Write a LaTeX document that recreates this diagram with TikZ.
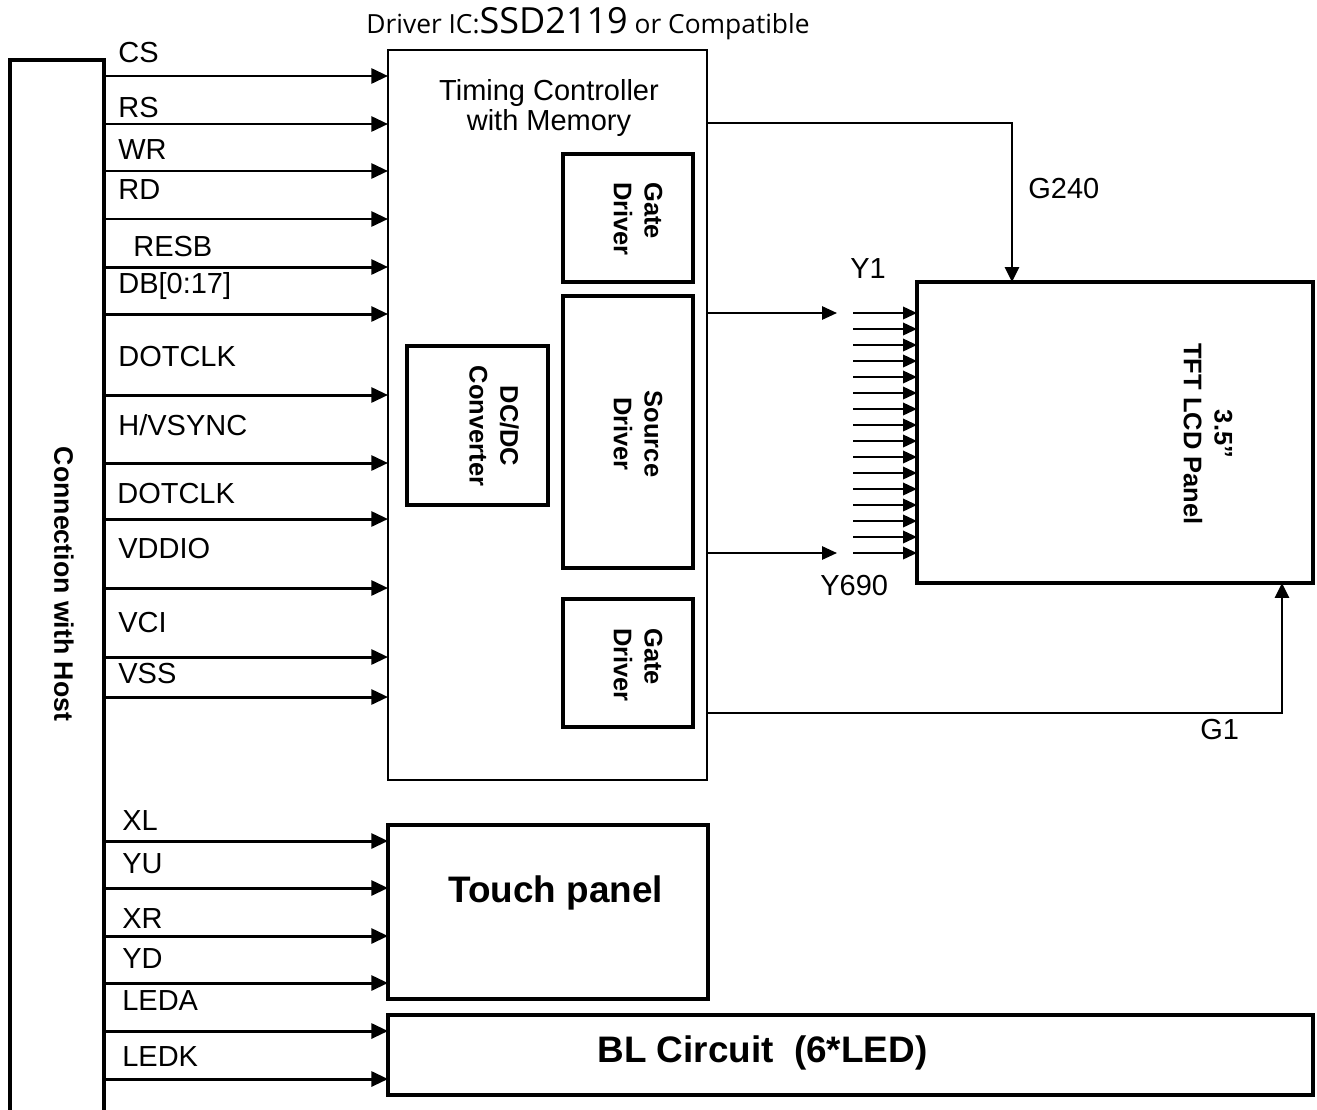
\documentclass[tikz,border=0pt]{standalone}
\usepackage{fontspec}
\setmainfont{Liberation Sans}
\newfontfamily\hdrfont{Open Sans}
\usetikzlibrary{arrows.meta}

\begin{document}
\begin{tikzpicture}[x=0.02cm, y=-0.02cm,
    blk/.style={draw, line width=2.3pt, inner sep=0pt, outer sep=0pt},
    tcbox/.style={draw, line width=1.2pt, inner sep=0pt, outer sep=0pt},
    hostbox/.style={draw, line width=2.5pt, inner sep=0pt, outer sep=0pt},
    sig/.style={-{Triangle[length=9.5pt, width=8.5pt]}, line width=1.7pt},
    gline/.style={-{Triangle[length=8.5pt, width=8pt]}, line width=1.4pt},
    yline/.style={-{Triangle[length=8.5pt, width=7.5pt]}, line width=1.2pt},
    fan/.style={-{Triangle[length=8pt, width=7pt]}, line width=1.5pt},
    siglab/.style={anchor=base west, inner sep=0pt, font=\fontsize{16.5}{19}\selectfont},
    vlab/.style={rotate=-90, align=center, inner sep=0pt,
                 font=\fontsize{14.5}{17.5}\selectfont\bfseries},
    biglab/.style={anchor=base west, inner sep=0pt,
                   font=\fontsize{21}{24}\selectfont\bfseries},
]
    \useasboundingbox (0,0) rectangle (1317,1109);

    % blocks
    \node[hostbox, minimum width=1.88cm, minimum height=21.3cm] (host) at (57,592.5) {};
    \node[tcbox, minimum width=6.38cm, minimum height=14.6cm] (tc) at (547.5,415) {};
    \node[blk, minimum width=2.6cm, minimum height=2.56cm] (gtop) at (628,218) {};
    \node[blk, minimum width=2.6cm, minimum height=5.44cm] (src) at (628,432) {};
    \node[blk, minimum width=2.6cm, minimum height=2.56cm] (gbot) at (628,663) {};
    \node[blk, minimum width=2.82cm, minimum height=3.18cm] (dcdc) at (477.5,425.5) {};
    \node[blk, minimum width=7.92cm, minimum height=6.02cm] (lcd) at (1115,432.5) {};
    \node[blk, minimum width=6.4cm, minimum height=3.48cm] (touch) at (548,912) {};
    \node[blk, minimum width=18.5cm, minimum height=1.6cm] (bl) at (850.5,1055) {};

    % texts
    \node[anchor=base, inner sep=0pt] (hdr) at (588,33)
        {\hdrfont\fontsize{15}{17}\selectfont Driver IC:{\fontsize{20.5}{22}\selectfont SSD2119} or Compatible};
    \node[anchor=north, align=center, inner sep=0pt, font=\fontsize{16.5}{17}\selectfont]
        (tctxt) at (549,79) {Timing Controller\\with Memory};
    \node[vlab, font=\fontsize{15.2}{17.5}\selectfont\bfseries] (hosttxt) at (64,584) {Connection with Host};
    \node[vlab, align=left] (gtoptxt) at (638,219) {Gate\\Driver};
    \node[vlab] (srctxt) at (638,434) {Source\\Driver};
    \node[vlab, align=left] (gbottxt) at (638,665) {Gate\\Driver};
    \node[vlab] (dcdctxt) at (494,426) {DC/DC\\Converter};
    \node[vlab] (lcdtxt) at (1208,434) {3.5”\\TFT LCD Panel};
    \node[biglab] (touchtxt) at (448,902) {Touch panel};
    \node[biglab] (bltxt) at (597,1062) {BL Circuit\ \ (6*LED)};

    % host to timing controller
    \foreach \ay/\ly/\lx/\txt [count=\i] in {76/62/118/CS, 124/117/118/RS,
        171/159/118/WR, 219/199/118/RD, 267/256/133/RESB, 314/293/118/{DB[0:17]},
        395/366/118/DOTCLK, 463/435/118/{H/VSYNC}, 519/503/117/DOTCLK,
        588/558/118/VDDIO, 657/632/118/VCI, 697/683/118/VSS}{
        \draw[sig] (host.east |- 0,\ay) -- (tc.west |- 0,\ay);
        \node[siglab] (s\i) at (\lx,\ly) {\txt};
    }

    % host to touch panel
    \foreach \ay/\ly/\lx/\txt [count=\i] in {841/830/122/XL, 888/873/122/YU,
        936/928/122/XR, 983/968/122/YD}{
        \draw[sig] (host.east |- 0,\ay) -- (touch.west |- 0,\ay);
        \node[siglab] (t\i) at (\lx,\ly) {\txt};
    }

    % host to backlight
    \foreach \ay/\ly/\lx/\txt [count=\i] in {1031/1010/122/LEDA, 1079/1066/122/LEDK}{
        \draw[sig] (host.east |- 0,\ay) -- (bl.west |- 0,\ay);
        \node[siglab] (b\i) at (\lx,\ly) {\txt};
    }

    % gate lines
    \draw[gline] (tc.east |- 0,123) -| (1012,0 |- lcd.north);
    \node[siglab] (g240) at (1028,198) {G240};
    \draw[gline] (tc.east |- 0,713) -| (1282,0 |- lcd.south);
    \node[siglab] (g1) at (1200,739) {G1};

    % source lines
    \coordinate (y1end) at (837,313);
    \coordinate (y690end) at (837,553);
    \draw[yline] (tc.east |- y1end) -- (y1end);
    \draw[yline] (tc.east |- y690end) -- (y690end);
    \node[siglab] (y1) at (850,278) {Y1};
    \node[siglab] (y690) at (820,595) {Y690};
    \foreach \k in {0,...,15}{
        \pgfmathsetmacro\fy{313+16*\k}
        \draw[fan] (853,\fy) -- (lcd.west |- 0,\fy);
    }
\end{tikzpicture}
\end{document}
